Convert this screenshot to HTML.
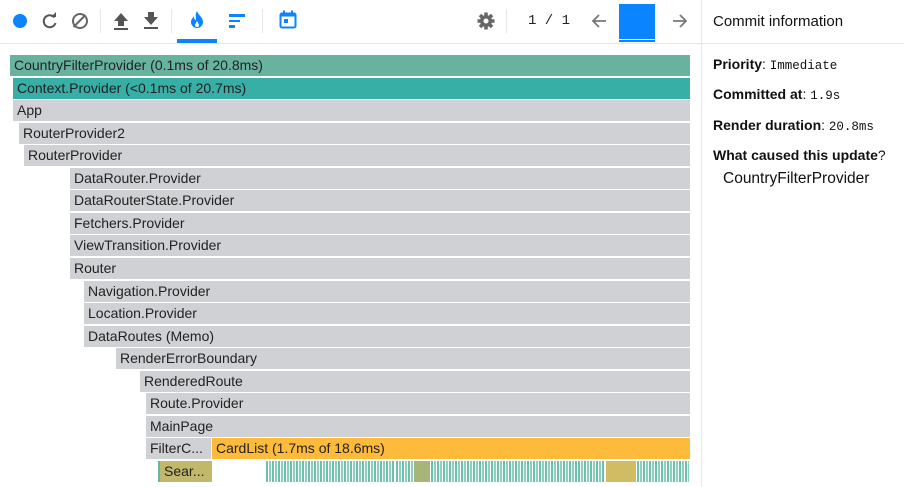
<!DOCTYPE html>
<html><head><meta charset="utf-8"><style>
body{margin:0;width:904px;height:487px;overflow:hidden;background:#fff;font-family:"Liberation Sans",sans-serif;position:relative}
.abs{position:absolute}
.bar{position:absolute;height:21px;font-size:14px;line-height:21px;color:#222;white-space:nowrap;overflow:hidden;padding-left:4px;box-sizing:border-box}
.mono{font-family:"Liberation Mono",monospace;font-size:12.5px;font-weight:normal}
.info{position:absolute;left:713px;font-size:14px;color:#111}
</style></head><body>
<div class="abs" style="left:0;top:0;width:701px;height:43px;border-bottom:1px solid #e6e6e6"></div>
<div class="abs" style="left:13px;top:14px;width:14px;height:14px;border-radius:50%;background:#0a84ff"></div>
<svg class="abs" style="left:40px;top:11px" width="20" height="20" viewBox="0 0 20 20"><path d="M14.5 6.5 A6 6 0 1 0 15.5 12" fill="none" stroke="#555" stroke-width="2"/><path d="M11 6 L16 6 L16 1 Z" fill="#555"/></svg>
<div class="abs" style="left:72px;top:13px;width:12px;height:12px;border:2px solid #666;border-radius:50%"></div>
<div class="abs" style="left:71px;top:20px;width:17px;height:2px;background:#666;transform:rotate(-45deg)"></div>
<div class="abs" style="left:100px;top:9px;width:1px;height:24px;background:#e6e6e6"></div>
<svg class="abs" style="left:112px;top:12px" width="18" height="18" viewBox="0 0 18 18"><path d="M9 1 L16 9 L12 9 L12 14 L6 14 L6 9 L2 9 Z" fill="#555"/><rect x="2" y="16" width="14" height="2" fill="#555"/></svg>
<svg class="abs" style="left:142px;top:11px" width="18" height="18" viewBox="0 0 18 18"><path d="M6 1 L12 1 L12 6 L16 6 L9 14 L2 6 L6 6 Z" fill="#555"/><rect x="2" y="16" width="14" height="2" fill="#555"/></svg>
<div class="abs" style="left:171px;top:9px;width:1px;height:24px;background:#e6e6e6"></div>
<div class="abs" style="left:177px;top:0;width:40px;height:43px">
<svg class="abs" style="left:13px;top:11px" width="14" height="18" viewBox="0 0 14 18"><path d="M7 0 C8 4 13 6 13 11 A6 6 0 0 1 1 11 C1 8 3 7 4 5 C4 8 5 9 6 9 C6 6 5 3 7 0 Z" fill="#0a84ff"/><path d="M7 10 C8 12 9 13 9 14 A2 2 0 0 1 5 14 C5 13 6 12 7 10Z" fill="#fff"/></svg>
<div class="abs" style="left:0;top:39px;width:40px;height:4px;background:#0a84ff"></div></div>
<div class="abs" style="left:229px;top:14px">
<div style="width:16px;height:2.5px;background:#0a84ff;margin-bottom:3px"></div><div style="width:11px;height:2.5px;background:#0a84ff;margin-bottom:3px"></div><div style="width:6px;height:2.5px;background:#0a84ff"></div></div>
<div class="abs" style="left:262px;top:9px;width:1px;height:24px;background:#e6e6e6"></div>
<svg class="abs" style="left:279px;top:10px" width="18" height="19" viewBox="0 0 18 19"><rect x="1.5" y="3.5" width="15" height="14" rx="1.5" fill="none" stroke="#0a84ff" stroke-width="2"/><rect x="1.5" y="3.5" width="15" height="3" fill="#0a84ff"/><rect x="4" y="0.5" width="2" height="4" fill="#0a84ff"/><rect x="12" y="0.5" width="2" height="4" fill="#0a84ff"/><rect x="5" y="9" width="4" height="4" fill="#0a84ff"/></svg>
<svg class="abs" style="left:477px;top:12px" width="18" height="18" viewBox="0 0 18 18"><circle cx="9" cy="9" r="6" fill="#666"/><g stroke="#666" stroke-width="3.5"><line x1="9" y1="0.5" x2="9" y2="17.5"/><line x1="0.5" y1="9" x2="17.5" y2="9"/><line x1="3" y1="3" x2="15" y2="15"/><line x1="15" y1="3" x2="3" y2="15"/></g><circle cx="9" cy="9" r="2.5" fill="#fff"/></svg>
<div class="abs" style="left:506px;top:9px;width:1px;height:24px;background:#e6e6e6"></div>
<div class="abs" style="left:528px;top:13px;font-family:'Liberation Mono',monospace;font-size:14px;color:#222">1 / 1</div>
<svg class="abs" style="left:591px;top:13px" width="16" height="16" viewBox="0 0 16 16"><path d="M15 8 H2 M8 2 L2 8 L8 14" fill="none" stroke="#777" stroke-width="1.8"/></svg>
<div class="abs" style="left:619px;top:4px;width:36px;height:35px;background:#0a84ff"></div>
<div class="abs" style="left:619px;top:40px;width:36px;height:2px;background:#0a84ff"></div>
<svg class="abs" style="left:672px;top:13px" width="16" height="16" viewBox="0 0 16 16"><path d="M1 8 H14 M8 2 L14 8 L8 14" fill="none" stroke="#777" stroke-width="1.8"/></svg>
<div class="abs" style="left:701px;top:0;width:1px;height:487px;background:#e6e6e6"></div>
<div class="abs" style="left:702px;top:43px;width:202px;height:1px;background:#e6e6e6"></div>
<div class="info" style="top:13px;font-size:15px">Commit information</div>
<div class="info" style="top:56px"><b>Priority</b>: <span class="mono">Immediate</span></div>
<div class="info" style="top:86px"><b>Committed at</b>: <span class="mono">1.9s</span></div>
<div class="info" style="top:117px"><b>Render duration</b>: <span class="mono">20.8ms</span></div>
<div class="info" style="top:147px"><b>What caused this update</b>?</div>
<div class="info" style="top:170px;left:723px;font-size:15.5px">CountryFilterProvider</div>
<div id="flame"></div>
<script>
const names=["CountryFilterProvider (0.1ms of 20.8ms)","Context.Provider (<0.1ms of 20.7ms)","App","RouterProvider2","RouterProvider","DataRouter.Provider","DataRouterState.Provider","Fetchers.Provider","ViewTransition.Provider","Router","Navigation.Provider","Location.Provider","DataRoutes (Memo)","RenderErrorBoundary","RenderedRoute","Route.Provider","MainPage","FilterC...","CardList (1.7ms of 18.6ms)","Sear..."];
const starts=[10,13,13,19,24,70,70,70,70,70,84,84,84,116,140,146,146,146,212,160];
const ends=[690,690,690,690,690,690,690,690,690,690,690,690,690,690,690,690,690,211,690,212];
const rowIdx=[0,1,2,3,4,5,6,7,8,9,10,11,12,13,14,15,16,17,17,18];
const colors=["#67b3a0","#37aea6","#d0d1d5","#d0d1d5","#d0d1d5","#d0d1d5","#d0d1d5","#d0d1d5","#d0d1d5","#d0d1d5","#d0d1d5","#d0d1d5","#d0d1d5","#d0d1d5","#d0d1d5","#d0d1d5","#d0d1d5","#d0d1d5","#fdba3b","#c2b86c"];
const leafStarts=[266,396,414,431,578,606,637];
const leafEnds=[396,414,431,578,606,637,690];
const leafKinds=["s","s","b1","s","s","b2","s"];
const fl=document.getElementById('flame');
const rowY=r=>55+r*22.55;
names.forEach((n,i)=>{const d=document.createElement('div');d.className='bar';


d.style.left=starts[i]+'px';d.style.top=rowY(rowIdx[i])+'px';d.style.width=(ends[i]-starts[i])+'px';d.style.background=colors[i];d.textContent=n;fl.appendChild(d);});
const ln=document.createElement('div');ln.className='bar';ln.style.cssText='left:158px;top:'+rowY(18)+'px;width:2px;padding:0;background:#5fb8a8';


fl.appendChild(ln);
leafStarts.forEach((s,i)=>{const d=document.createElement('div');d.className='bar';


d.style.left=s+'px';d.style.top=rowY(18)+'px';d.style.width=(leafEnds[i]-s-1)+'px';d.style.padding='0';
d.style.background=leafKinds[i]==='s'?'repeating-linear-gradient(90deg,#6cc0ad 0 2px,#fff 2px 3px,#8fcfc0 3px 5px,#fff 5px 6px)':(leafKinds[i]==='b1'?'#a8b57a':'#d0bc62');
fl.appendChild(d);});
</script>
</body></html>
